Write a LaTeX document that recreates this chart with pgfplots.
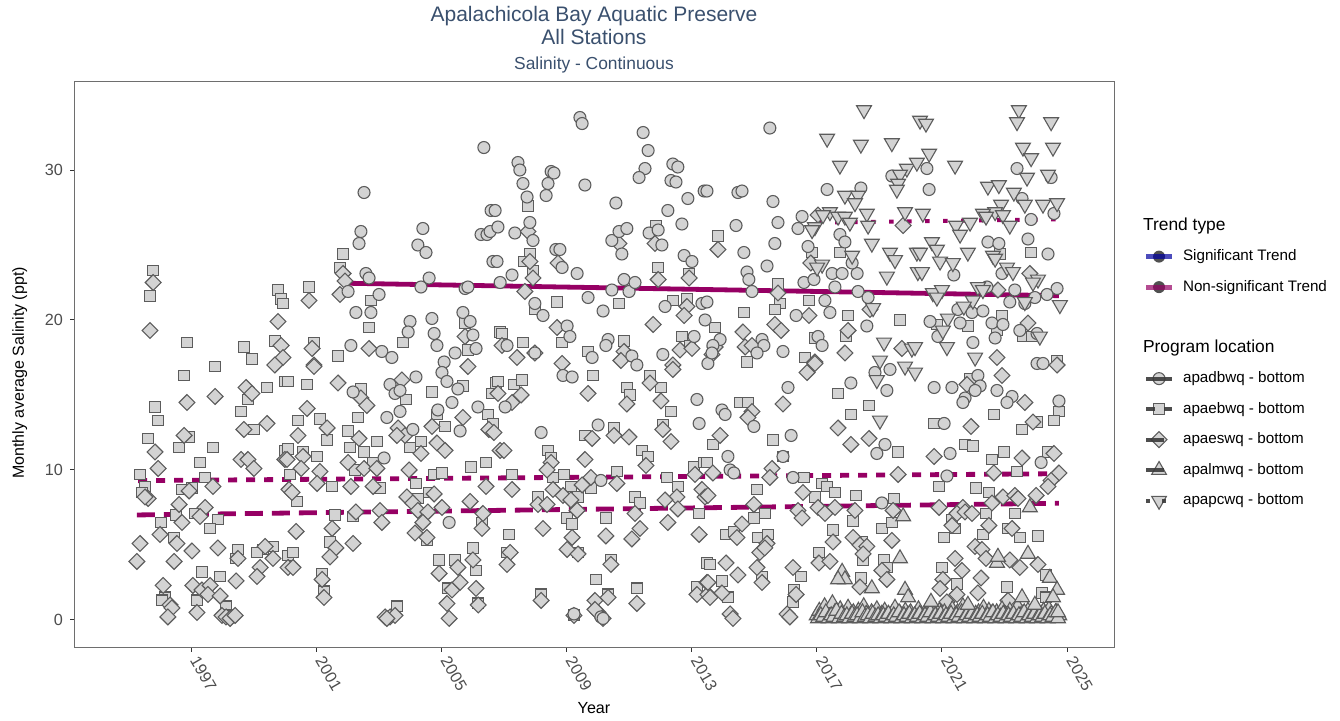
\documentclass[border=0pt]{standalone}
\usepackage{fontspec}
\setmainfont{Liberation Sans}
\usepackage{pgfplots}
\pgfplotsset{compat=1.18}

\definecolor{ptfill}{HTML}{D3D3D3}
\definecolor{ptedge}{HTML}{5C5C5C}
\definecolor{framecol}{HTML}{6E6E6E}
\definecolor{tickcol}{HTML}{333333}
\definecolor{ticklab}{HTML}{4D4D4D}
\definecolor{trendmag}{HTML}{960064}
\definecolor{trendblue}{HTML}{0000A0}
\definecolor{titlecol}{HTML}{3A506E}
\definecolor{keyline}{HTML}{3A3A3A}
\definecolor{keydot}{HTML}{505050}

\tikzset{pt/.style={fill=ptfill, draw=ptedge, line width=0.55pt, solid}}

\pgfplotsset{
  circ/.style={only marks, forget plot, mark=*, mark size=3pt, mark options={pt}},
  sq/.style={only marks, forget plot, mark=square*, mark size=2.7pt, mark options={pt}},
  dia/.style={only marks, forget plot, mark=square*, mark size=2.8pt, mark options={pt, rotate=45}},
  tri/.style={only marks, forget plot, mark=triangle*, mark size=4.3pt, mark options={pt}},
  itri/.style={only marks, forget plot, mark=triangle*, mark size=4.3pt, mark options={pt, rotate=180}},
  trend/.style={no markers, forget plot, line width=2.4pt, line cap=butt},
}

\begin{document}
\begin{tikzpicture}[x=1pt,y=1pt]
\path[use as bounding box] (0,0) rectangle (670,360.5);

% titles
\node[anchor=base, font=\fontsize{10.5}{12}\selectfont, text=titlecol] at (297,349.75) {Apalachicola Bay Aquatic Preserve};
\node[anchor=base, font=\fontsize{10.5}{12}\selectfont, text=titlecol] at (297,338.25) {All Stations};
\node[anchor=base, font=\fontsize{8.7}{10}\selectfont, text=titlecol] at (297,325.9) {Salinity - Continuous};
% axis titles
\node[anchor=base, font=\fontsize{8.05}{9}\selectfont] at (297,3.6) {Year};
\node[anchor=base, rotate=90, font=\fontsize{8}{9}\selectfont] at (11.9,174) {Monthly average Salinity (ppt)};

\begin{axis}[
  at={(37pt,36.5pt)}, anchor=south west,
  width=520pt, height=283pt, scale only axis,
  xmin=1993.26, xmax=2026.5, ymin=-1.87, ymax=35.87,
  axis line style={draw=framecol, line width=0.5pt},
  xtick={1997,2001,2005,2009,2013,2017,2021,2025},
  ytick={0,10,20,30},
  tick align=outside, tick pos=left,
  major tick length=2pt,
  every tick/.style={draw=tickcol, line width=0.5pt},
  tick label style={font=\fontsize{8.1}{9}\selectfont, text=ticklab},
  xticklabel style={rotate=-60, anchor=west},
  /pgf/number format/assume math mode=true,
  /pgf/number format/1000 sep={},
  legend cell align=left,
  legend style={
    at={(axis description cs:1.0308,0.7577)}, anchor=north west,
    draw=none, fill=none, inner sep=0pt, outer sep=0pt,
    row sep=8.25pt, column sep=5.5pt,
    font=\fontsize{7.6}{9}\selectfont,
    nodes={inner sep=0pt, text height=5.5pt, text depth=1.5pt},
  },
]

% ---------------- apaebwq (squares) ----------------
\addplot[sq] coordinates {
(1995.79,23.3) (1995.69,21.6) (1996.87,18.5) (1998.69,18.2) (1998.95,17.4) (1997.77,16.9)
(1999.78,22.0) (1999.88,21.4) (1999.94,21.1) (1999.68,18.6)
(2000.77,22.2) (2000.93,18.5) (2001.70,17.6) (2001.86,24.4) (2001.76,23.5) (2002.75,21.3)
(2002.69,19.5) (2003.78,18.5) (2005.76,19.8) (2005.85,18.0) (2006.88,19.2)
(1996.78,16.3) (1995.85,14.2) (1995.95,13.3) (1998.82,14.7) (1999.43,15.5) (2000.00,15.9)
(1998.60,13.9) (1999.01,12.7) (1996.94,12.2) (1995.63,12.1) (1996.62,11.5) (1997.70,11.5)
(1997.29,10.5) (2000.00,11.3) (1995.37,9.7) (1995.53,8.9) (1997.45,9.5) (1995.43,8.5)
(1996.71,8.7) (1997.03,8.8) (1997.13,7.1) (1996.52,7.0) (1997.86,6.7) (1996.04,6.5)
(1996.46,5.5) (1997.61,6.1) (1998.50,4.7) (1998.44,4.1) (1999.30,4.7) (1999.62,4.9)
(1999.11,4.5) (2000.10,4.3) (1997.35,3.2) (1997.93,2.9) (1996.17,1.5) (1996.07,1.3)
(1997.19,1.3) (1998.12,0.9) (1998.25,0.3)
(2000.10,15.9) (2000.71,15.7) (2002.43,15.4) (2000.42,13.3) (2001.12,13.4) (2001.35,12.0)
(2002.02,12.6) (2002.34,13.5) (2002.94,11.9) (2002.08,11.5) (2002.53,11.2) (2000.10,11.4)
(2000.58,11.2) (2001.03,10.9) (2002.82,10.5) (2002.24,10.0) (2000.16,9.7) (2001.51,8.9)
(2003.04,8.8) (2000.39,7.9) (2001.60,7.0) (2002.18,6.9) (2001.44,5.2) (2000.26,4.5)
(2001.19,3.1) (2001.25,1.9) (2003.58,0.9)
(2003.87,14.7) (2004.35,11.9) (2004.00,11.5) (2004.70,15.2) (2004.86,13.7) (2005.12,12.9)
(2005.69,15.6) (2006.49,13.7) (2006.65,13.1) (2006.75,15.8) (2006.62,15.1) (2005.95,10.2)
(2006.43,10.5) (2004.19,9.1) (2004.77,9.7) (2005.02,9.8) (2004.25,8.1) (2004.61,8.5)
(2006.30,6.5) (2004.54,5.3) (2004.93,4.0) (2005.44,4.0) (2005.21,2.1) (2006.01,4.8)
(2006.11,3.3) (2006.17,1.1)
(2007.77,27.6) (2007.83,24.4) (2007.64,23.9) (2007.93,23.3) (2007.99,20.7) (2008.70,21.2)
(2010.68,21.1) (2011.86,26.3) (2011.93,23.5) (2012.92,23.1) (2012.40,21.3) (2012.85,21.4)
(2006.94,19.1) (2007.61,18.5) (2008.86,18.5) (2009.69,17.9) (2010.84,18.6) (2012.69,18.9)
(2012.95,18.3)
(2009.85,16.3) (2006.81,15.9) (2007.32,15.7) (2007.58,16.0) (2010.93,15.5) (2011.03,15.0)
(2011.67,16.3) (2012.02,15.5) (2012.34,13.9) (2012.08,13.0) (2009.59,12.3) (2010.52,12.8)
(2008.41,11.3) (2008.51,10.8) (2011.41,11.3) (2011.61,10.9) (2007.26,9.7) (2008.92,9.7)
(2008.57,9.5) (2009.14,8.9) (2009.78,8.8) (2010.61,9.9) (2009.37,8.2) (2008.09,8.2)
(2011.19,8.2) (2011.35,7.8) (2009.02,6.8) (2009.18,6.4) (2010.26,6.8) (2012.21,9.5)
(2012.56,8.9) (2013.08,10.2) (2013.40,10.5) (2013.24,7.1) (2007.16,5.7) (2007.10,4.5)
(2009.37,4.5) (2010.42,4.0) (2009.94,2.7) (2011.25,2.1) (2008.19,1.7) (2010.33,1.7)
(2009.24,0.3) (2013.49,3.8) (2013.17,2.2)
(2013.84,25.6) (2016.85,24.5) (2017.74,24.5) (2015.76,22.4) (2015.82,21.1) (2016.75,21.3)
(2015.66,20.7) (2014.67,20.5) (2013.75,19.5) (2018.00,20.3) (2019.66,20.0) (2016.94,18.8)
(2017.94,18.9) (2014.77,17.2) (2016.62,17.5)
(2014.55,14.5) (2014.80,14.5) (2017.68,15.1) (2018.67,14.3) (2018.09,13.7) (2013.68,11.7)
(2015.60,12.0) (2019.60,11.2) (2015.92,10.9) (2013.49,10.5) (2016.59,9.5) (2015.09,8.7)
(2017.17,9.1) (2017.33,8.9) (2017.58,8.5) (2018.25,8.3) (2019.47,8.1) (2016.94,8.2)
(2015.34,7.1) (2014.99,6.8) (2018.16,6.6) (2014.10,5.7) (2014.35,5.9) (2015.12,5.5)
(2015.44,5.7) (2017.52,6.0) (2019.08,6.1) (2019.40,6.5) (2018.44,5.2) (2018.48,4.0)
(2017.07,4.5) (2019.15,4.0) (2019.24,3.5) (2013.59,3.7) (2015.25,2.9) (2016.50,2.9)
(2013.97,2.6) (2014.16,1.5) (2016.27,2.0) (2016.24,1.2) (2018.41,2.8)
(2022.86,24.4) (2023.85,24.5) (2022.92,20.3) (2020.84,19.7) (2021.83,19.6) (2022.76,19.3)
(2023.59,18.9) (2023.88,18.9) (2024.68,17.3)
(2021.90,16.1) (2022.66,13.7) (2024.74,13.9) (2020.75,13.1) (2024.04,13.2) (2023.56,12.7)
(2024.58,13.3) (2021.74,11.7) (2021.99,11.6) (2022.98,11.2) (2022.60,10.7) (2024.39,11.2)
(2023.40,9.9) (2020.91,8.9) (2022.09,8.8) (2022.50,8.5) (2023.33,7.1) (2022.41,7.1)
(2021.32,6.7) (2021.42,6.1) (2022.31,5.7) (2021.07,5.5) (2023.11,6.1) (2023.49,5.5)
(2024.07,5.6) (2021.00,3.5) (2024.33,3.0) (2021.48,2.4) (2023.08,2.2) (2024.20,1.8)
(2024.33,1.5)
};

% ---------------- apaeswq (diamonds) ----------------
\addplot[dia] coordinates {
(1995.79,22.5) (1995.69,19.3) (1999.78,19.9) (1999.88,18.3) (1999.94,17.5) (1999.68,17.0)
(2000.77,21.3) (2000.87,18.1) (2000.93,17.0) (2001.86,23.1) (2001.92,22.6) (2001.76,21.7)
(2002.69,18.1) (2005.76,18.9)
(1996.87,14.5) (1997.77,14.9) (1998.76,15.5) (1998.95,15.1) (1999.43,13.1) (1998.69,12.7)
(1996.78,12.3) (1995.85,11.2) (1995.95,10.1) (1998.60,10.7) (1998.82,10.7) (1999.01,10.1)
(2000.00,10.7) (1995.63,8.1) (1995.53,8.2) (1996.94,8.6) (1997.70,8.9) (1996.62,7.7)
(1997.45,7.5) (1996.71,6.5) (1997.29,6.9) (1996.01,5.7) (1996.55,5.1) (1995.37,5.1)
(1997.03,4.6) (1997.86,4.8) (1995.27,3.9) (1996.46,3.9) (1998.50,4.1) (1999.37,4.9)
(1999.62,4.1) (1999.21,3.5) (1999.11,2.9) (2000.10,3.5) (1998.44,2.6) (1996.11,2.3)
(1996.33,1.0) (1996.39,0.8) (1996.26,0.2) (1997.06,2.3) (1997.35,2.0) (1997.61,2.3)
(1997.54,1.7) (1997.19,0.5) (1997.93,1.6) (1997.99,0.3) (1998.12,0.2) (1998.25,0.1)
(1998.41,0.3)
(2000.93,16.9) (2001.70,15.8) (2002.43,14.8) (2002.62,14.3) (2000.71,14.1) (2001.35,12.8)
(2000.42,12.3) (2002.37,12.1) (2000.58,10.9) (2000.07,10.7) (2000.52,10.1) (2002.02,10.5)
(2002.53,10.1) (2002.94,10.1) (2001.12,9.9) (2001.03,9.1) (2002.11,8.9) (2002.82,8.9)
(2000.13,8.7) (2000.23,8.5) (2002.27,7.2) (2003.04,7.3) (2003.10,6.5) (2000.36,5.9)
(2001.51,6.1) (2001.63,4.8) (2001.44,4.2) (2002.18,5.1) (2000.26,3.5) (2001.19,2.7)
(2001.25,1.5) (2003.20,0.2) (2003.36,0.2) (2003.52,0.3) (2003.26,0.1)
(2003.74,16.0) (2003.62,12.8) (2003.84,12.3) (2003.58,12.3) (2004.35,11.1) (2004.70,12.9)
(2004.86,11.8) (2005.12,11.3) (2005.69,13.5) (2005.85,16.9) (2006.52,12.7) (2006.68,12.5)
(2006.88,11.3) (2003.97,10.0) (2006.43,8.9) (2003.90,8.2) (2004.09,7.8) (2004.77,8.4)
(2004.25,7.3) (2004.57,7.2) (2005.02,7.5) (2004.41,6.5) (2004.16,5.8) (2005.92,7.9)
(2006.33,7.1) (2006.30,6.1) (2004.54,5.5) (2004.93,3.1) (2005.53,3.5) (2005.34,2.0)
(2005.60,2.5) (2005.18,1.1) (2005.25,0.1) (2006.01,4.0) (2006.11,2.1) (2006.18,1.0)
(2007.77,25.9) (2007.83,23.9) (2007.93,22.8) (2008.73,23.8) (2007.67,21.9) (2010.68,25.1)
(2011.83,25.1) (2011.93,22.7) (2012.92,22.8) (2012.85,20.9) (2012.76,20.3) (2008.70,19.5)
(2011.77,19.7) (2006.94,18.3) (2007.42,17.5) (2007.99,17.8) (2008.86,17.1) (2010.84,17.9)
(2010.74,17.3) (2012.63,18.0) (2013.01,18.1) (2012.40,17.0)
(2012.40,16.7) (2006.81,15.1) (2007.26,14.5) (2007.55,15.0) (2009.69,15.1) (2010.93,14.4)
(2011.67,15.8) (2012.02,14.6) (2012.08,12.7) (2012.34,11.9) (2009.82,12.1) (2010.52,12.3)
(2011.00,12.2) (2007.00,11.3) (2009.59,10.7) (2008.51,10.5) (2008.38,10.0) (2011.54,10.3)
(2007.26,8.7) (2008.57,8.7) (2008.89,8.3) (2009.14,8.0) (2009.50,9.0) (2009.78,9.5)
(2010.61,9.1) (2008.09,7.7) (2008.38,7.7) (2011.19,7.1) (2009.34,7.3) (2012.53,8.2)
(2012.15,8.0) (2012.56,7.4) (2012.24,6.5) (2013.11,9.7) (2013.33,8.7) (2013.43,8.2)
(2013.24,5.7) (2008.25,6.1) (2010.26,5.6) (2011.35,6.1) (2011.09,5.4) (2009.18,5.5)
(2009.02,4.7) (2009.37,4.4) (2007.20,4.5) (2007.10,3.7) (2010.42,3.7) (2008.19,1.3)
(2010.33,1.5) (2009.91,1.3) (2011.25,1.1) (2009.24,0.3) (2010.01,0.5) (2010.17,0.1)
(2009.91,0.7) (2013.17,1.7) (2013.49,2.5) (2013.52,1.7)
(2013.84,24.7) (2016.81,23.8) (2015.76,21.8) (2016.75,20.3) (2014.64,19.2) (2014.71,18.2)
(2014.93,18.3) (2015.66,19.7) (2015.86,19.3) (2018.00,19.3) (2017.90,17.8) (2013.75,18.2)
(2013.65,17.7) (2018.70,20.7) (2019.72,18.1) (2016.94,17.2) (2019.76,26.3) (2017.04,27.0)
(2016.69,16.5) (2016.94,17.1) (2014.93,13.9) (2014.80,13.5) (2015.92,14.4) (2017.68,12.8)
(2013.91,12.3) (2018.09,11.7) (2018.67,12.1) (2015.57,10.1) (2015.50,9.5) (2019.60,9.7)
(2013.68,9.8) (2013.52,8.3) (2016.56,8.5) (2019.44,7.3) (2017.04,7.5) (2017.26,7.1)
(2017.58,7.5) (2018.22,7.3) (2014.99,7.7) (2016.40,7.3) (2016.53,6.8) (2014.61,6.4)
(2014.45,5.5) (2015.41,5.1) (2015.18,4.5) (2015.34,4.8) (2017.52,5.2) (2019.40,5.3)
(2018.16,5.5) (2018.38,5.0) (2018.60,4.9) (2018.48,4.4) (2017.07,3.8) (2017.42,3.9)
(2019.08,3.3) (2019.24,2.7) (2014.10,3.8) (2015.09,3.5) (2015.25,2.5) (2016.24,3.5)
(2014.48,3.0) (2013.52,2.5) (2013.59,1.5) (2013.97,1.8) (2016.34,1.7) (2018.38,2.2)
(2014.23,0.4) (2014.32,0.1) (2016.05,0.4) (2016.14,0.2)
(2023.81,23.1) (2022.79,22.0) (2023.75,19.8) (2022.76,17.5) (2024.68,17.0)
(2021.80,15.7) (2022.92,16.3) (2023.65,14.5) (2021.93,12.9) (2023.91,13.2) (2020.75,10.9)
(2023.56,10.8) (2024.58,11.1) (2022.66,9.8) (2024.74,9.8) (2024.49,9.3) (2024.39,8.9)
(2022.60,7.8) (2022.95,8.2) (2023.33,8.3) (2023.43,8.1) (2024.01,8.3) (2020.91,7.5)
(2021.67,7.5) (2021.48,7.1) (2021.74,7.2) (2021.96,7.1) (2021.32,6.3) (2022.50,6.3)
(2023.24,6.1) (2022.06,4.9) (2022.28,4.7) (2022.41,4.1) (2021.42,4.1) (2021.64,3.3)
(2023.17,4.0) (2023.49,3.5) (2024.07,3.7) (2021.03,2.7) (2020.94,2.1) (2021.48,1.7)
(2021.16,1.2) (2022.15,1.8) (2022.25,2.8) (2023.11,1.3)
};

% ---------------- apadbwq (circles) ----------------
\addplot[circ] coordinates {
(2002.02,21.9) (2002.53,28.5) (2002.43,25.9) (2002.37,25.1) (2002.59,23.1) (2002.69,22.8)
(2003.01,21.7) (2002.27,20.5) (2002.75,20.5) (2002.11,18.3) (2003.10,17.9) (2003.42,17.5)
(2004.41,26.1) (2004.25,25.0) (2004.51,24.5) (2004.61,22.8) (2004.35,22.2) (2004.00,19.9)
(2003.94,19.2) (2004.70,20.1) (2004.77,19.1) (2004.86,18.3) (2005.09,17.2) (2005.44,17.8)
(2006.36,31.5) (2006.59,27.3) (2006.27,25.7) (2006.46,25.7) (2006.56,25.9) (2006.81,26.2)
(2006.65,23.9) (2006.78,23.9) (2005.76,22.1) (2005.85,22.2) (2005.69,20.5) (2005.92,19.9)
(2006.01,19.0) (2006.11,18.1) (2006.88,22.5)
(2002.18,15.2) (2003.36,15.7) (2003.52,15.1) (2003.68,15.3) (2003.68,13.9) (2003.26,13.5)
(2004.09,12.7) (2003.17,10.8) (2004.19,16.2) (2004.89,14.0) (2005.02,16.5) (2005.18,15.9)
(2005.53,15.4) (2005.34,14.5) (2005.60,12.6) (2006.17,14.2) (2005.25,6.5)
(2009.43,33.5) (2009.50,33.1) (2007.45,30.5) (2007.51,30.0) (2007.61,29.1) (2007.74,28.2)
(2008.51,29.9) (2008.60,29.8) (2008.41,29.1) (2008.35,28.3) (2009.59,29.0) (2011.45,32.5)
(2011.61,31.3) (2011.51,30.1) (2011.32,29.5) (2012.40,30.4) (2012.56,30.2) (2012.34,29.3)
(2012.50,29.2) (2013.40,28.6) (2012.88,28.1) (2010.58,27.8) (2012.24,27.3) (2012.69,26.4)
(2006.72,27.3) (2007.35,25.8) (2007.83,26.5) (2007.93,25.3) (2007.26,23.0) (2008.66,24.7)
(2008.79,24.7) (2008.86,23.5) (2009.34,23.1) (2007.99,21.1) (2008.25,20.3) (2009.69,21.5)
(2010.17,20.6) (2010.45,22.0) (2011.00,21.9) (2010.84,22.7) (2011.19,22.5) (2010.45,25.3)
(2010.68,25.9) (2010.93,26.1) (2010.77,24.4) (2011.64,25.8) (2011.93,26.0) (2012.05,25.0)
(2012.76,24.3) (2013.01,23.9) (2012.15,20.9) (2013.33,21.1) (2013.43,20.0) (2007.10,18.3)
(2007.99,17.8) (2009.02,19.6) (2009.11,18.9) (2009.82,17.5) (2010.33,18.7) (2010.26,18.3)
(2011.09,17.6) (2011.25,17.0) (2012.08,17.7) (2013.08,18.9)
(2008.89,16.3) (2009.18,16.2) (2013.52,17.1) (2007.04,14.2) (2013.17,14.7) (2013.24,13.1)
(2008.19,12.5) (2010.01,13.0) (2010.10,9.3) (2009.24,0.4) (2010.10,0.2) (2010.17,0.1)
(2015.50,32.8) (2013.49,28.6) (2014.48,28.5) (2014.61,28.6) (2015.60,27.9) (2017.33,28.7)
(2018.41,28.8) (2014.42,26.3) (2015.76,26.5) (2016.53,26.9) (2016.40,26.1) (2014.67,24.5)
(2015.66,25.1) (2015.41,23.6) (2014.77,23.2) (2014.83,22.7) (2014.93,21.9) (2013.49,21.2)
(2013.91,18.7) (2013.68,18.3) (2013.65,17.8) (2016.72,24.9) (2016.59,22.5) (2016.91,22.7)
(2017.74,25.7) (2017.90,25.2) (2017.49,23.1) (2017.81,23.1) (2018.29,23.1) (2018.13,23.8)
(2017.58,22.2) (2017.26,21.3) (2017.42,20.5) (2018.32,21.9) (2018.64,21.5) (2016.34,20.3)
(2017.04,18.9) (2017.17,18.3) (2015.25,18.7) (2015.31,18.3) (2015.09,17.8) (2015.92,17.9)
(2018.60,19.6) (2019.40,29.6)
(2016.08,15.5) (2013.97,14.0) (2014.07,13.7) (2014.99,12.9) (2018.09,15.8) (2019.24,15.3)
(2018.86,16.5) (2019.34,16.7) (2016.18,12.3) (2019.18,11.7) (2018.92,11.1) (2014.16,10.9)
(2015.92,10.9) (2014.23,10.0) (2014.35,9.8) (2016.24,9.5) (2019.08,7.8)
(2020.52,30.1) (2020.59,28.7) (2023.40,30.1) (2024.49,29.5) (2023.56,28.1) (2023.85,26.7)
(2024.58,27.1) (2023.75,25.4) (2022.47,25.2) (2022.82,25.1) (2024.39,24.4) (2021.38,23.0)
(2022.92,23.1) (2024.68,22.1) (2024.36,21.7) (2022.44,22.2) (2023.33,22.0) (2023.17,21.2)
(2023.65,21.1) (2023.97,21.5) (2021.51,20.7) (2021.96,20.5) (2022.31,20.6) (2020.62,19.9)
(2021.58,19.8) (2020.87,18.9) (2022.60,19.8) (2022.95,19.7) (2022.70,18.8) (2023.49,19.3)
(2024.04,19.1) (2021.99,18.5) (2024.04,17.1) (2024.23,17.1)
(2020.75,15.5) (2021.32,15.5) (2022.15,16.3) (2022.22,15.6) (2022.06,15.3) (2021.74,14.8)
(2021.67,14.5) (2022.76,15.3) (2023.24,14.9) (2023.08,14.5) (2024.74,14.6) (2021.07,13.1)
(2021.26,11.1) (2024.17,10.5) (2021.16,9.6)
};

% ---------------- apalmwq (triangles) ----------------
\addplot[tri] coordinates {
(2017.00,0.3) (2017.08,0.6) (2017.17,0.2) (2017.25,0.9) (2017.33,0.4) (2017.42,0.2)
(2017.50,1.1) (2017.58,0.5) (2017.67,0.3) (2017.75,0.7) (2017.83,0.2) (2017.92,0.4)
(2018.00,0.8) (2018.08,0.3) (2018.17,0.5) (2018.25,0.2) (2018.33,0.6) (2018.42,0.3)
(2018.50,0.9) (2018.58,0.4) (2018.67,0.2) (2018.75,0.5) (2018.83,0.3) (2018.92,0.7)
(2019.00,0.2) (2019.08,0.4) (2019.17,0.6) (2019.25,0.3) (2019.33,0.2) (2019.42,0.5)
(2019.50,0.8) (2019.58,0.3) (2019.67,0.4) (2019.75,0.2) (2019.83,0.6) (2019.92,0.3)
(2020.00,0.5) (2020.08,0.2) (2020.17,0.4) (2020.25,0.7) (2020.33,0.3) (2020.42,0.2)
(2020.50,0.5) (2020.58,0.3) (2020.67,0.8) (2020.75,0.4) (2020.83,0.2) (2020.92,0.6)
(2021.00,0.3) (2021.08,0.5) (2021.17,0.2) (2021.25,0.4) (2021.33,0.7) (2021.42,0.3)
(2021.50,0.5) (2021.58,0.2) (2021.67,0.9) (2021.75,0.4) (2021.83,0.3) (2021.92,0.6)
(2022.00,0.2) (2022.08,0.4) (2022.17,0.5) (2022.25,0.3) (2022.33,0.8) (2022.42,0.2)
(2022.50,0.6) (2022.58,0.4) (2022.67,0.3) (2022.75,0.5) (2022.83,0.2) (2022.92,0.7)
(2023.00,0.4) (2023.08,0.3) (2023.17,0.6) (2023.25,0.2) (2023.33,0.5) (2023.42,0.9)
(2023.50,0.3) (2023.58,0.4) (2023.67,0.2) (2023.75,0.6) (2023.83,0.3) (2023.92,0.5)
(2024.00,0.8) (2024.08,0.2) (2024.17,0.4) (2024.25,0.6) (2024.33,0.3) (2024.42,0.7)
(2024.50,0.4) (2024.58,0.2) (2024.67,0.5) (2024.75,0.3)
(2017.04,0.1) (2017.13,0.3) (2017.21,0.2) (2017.29,0.5) (2017.38,0.1) (2017.46,0.3)
(2017.54,0.2) (2017.63,0.6) (2017.71,0.1) (2017.79,0.4) (2017.88,0.2) (2017.96,0.3)
(2018.04,0.1) (2018.13,0.4) (2018.21,0.2) (2018.29,0.3) (2018.38,0.1) (2018.46,0.5)
(2018.54,0.2) (2018.63,0.3) (2018.71,0.1) (2018.79,0.4) (2018.88,0.2) (2018.96,0.3)
(2019.04,0.1) (2019.13,0.3) (2019.21,0.2) (2019.29,0.4) (2019.38,0.1) (2019.46,0.3)
(2019.54,0.2) (2019.63,0.5) (2019.71,0.1) (2019.79,0.3) (2019.88,0.2) (2019.96,0.4)
(2020.04,0.1) (2020.13,0.3) (2020.21,0.2) (2020.29,0.4) (2020.38,0.1) (2020.46,0.3)
(2020.54,0.2) (2020.63,0.5) (2020.71,0.1) (2020.79,0.3) (2020.88,0.2) (2020.96,0.4)
(2021.04,0.1) (2021.13,0.3) (2021.21,0.2) (2021.29,0.4) (2021.38,0.1) (2021.46,0.3)
(2021.54,0.2) (2021.63,0.5) (2021.71,0.1) (2021.79,0.3) (2021.88,0.2) (2021.96,0.4)
(2022.04,0.1) (2022.13,0.3) (2022.21,0.2) (2022.29,0.4) (2022.38,0.1) (2022.46,0.3)
(2022.54,0.2) (2022.63,0.5) (2022.71,0.1) (2022.79,0.3) (2022.88,0.2) (2022.96,0.4)
(2023.04,0.1) (2023.13,0.3) (2023.21,0.2) (2023.29,0.4) (2023.38,0.1) (2023.46,0.3)
(2023.54,0.2) (2023.63,0.5) (2023.71,0.1) (2023.79,0.3) (2023.88,0.2) (2023.96,0.4)
(2024.04,0.1) (2024.13,0.3) (2024.21,0.2) (2024.29,0.4) (2024.38,0.1) (2024.46,0.3)
(2024.54,0.2) (2024.63,0.5) (2024.71,0.1)
(2019.76,6.9) (2019.66,4.1) (2017.81,3.2) (2017.90,2.7) (2017.68,2.7) (2018.76,2.1)
(2019.82,2.0) (2019.92,1.5) (2023.81,7.5) (2022.76,3.8) (2022.79,4.2) (2023.75,4.4)
(2024.45,2.8) (2024.68,2.0) (2024.55,1.5) (2023.56,1.5) (2020.65,1.2) (2021.83,1.0)
(2023.97,1.0) (2024.71,0.5)
};

% ---------------- apapcwq (inverted triangles) ----------------
\addplot[itri] coordinates {
(2018.51,34.0) (2017.33,32.1) (2018.41,31.7) (2019.40,31.8) (2017.74,30.3) (2019.88,30.1)
(2019.66,29.7) (2019.60,29.1) (2019.56,28.7) (2017.90,28.3) (2018.32,28.3) (2018.22,27.8)
(2018.60,27.1) (2017.42,27.2) (2017.20,27.0) (2017.68,26.9) (2017.90,26.9) (2018.06,26.5)
(2018.64,26.3) (2016.94,26.2) (2016.85,26.0) (2019.82,27.2) (2018.76,25.1) (2018.13,24.3)
(2019.34,24.5) (2019.50,24.0) (2017.17,23.7) (2017.01,23.5) (2019.24,22.9) (2020.20,24.5)
(2020.23,23.2) (2018.80,20.8) (2019.15,18.5) (2019.02,17.3) (2020.04,18.1) (2020.30,33.3)
(2018.92,16.0) (2019.02,13.3) (2019.82,16.9) (2020.14,16.5)
(2020.49,33.1) (2023.46,34.0) (2023.40,33.2) (2024.49,33.2) (2020.59,31.1) (2021.42,30.3)
(2023.59,31.5) (2023.85,30.8) (2024.55,31.5) (2023.72,29.5) (2024.39,29.7) (2022.47,28.9)
(2022.82,29.0) (2023.30,28.5) (2023.65,27.7) (2024.23,27.7) (2024.68,27.8) (2022.89,27.7)
(2022.70,27.2) (2022.31,27.1) (2022.95,27.0) (2022.41,26.9) (2021.90,26.5) (2023.17,26.3)
(2020.39,27.1) (2020.20,30.5) (2021.45,26.3) (2021.58,25.7) (2020.68,25.2) (2020.84,24.7)
(2020.30,24.5) (2021.83,24.5) (2022.63,24.3) (2022.70,24.1) (2020.94,23.9) (2021.35,23.8)
(2020.36,23.2) (2023.08,23.5) (2023.27,23.2) (2024.07,22.7) (2023.91,22.5) (2022.15,22.2)
(2022.31,22.0) (2021.99,21.3) (2020.71,21.8) (2021.00,22.0) (2020.84,21.5) (2021.70,20.9)
(2023.65,21.2) (2024.77,21.0) (2021.19,20.1) (2021.03,19.3) (2021.16,18.2) (2022.06,17.5)
(2024.13,18.9) (2020.14,18.2)
};

% ---------------- trend lines ----------------
\addplot[trend, trendmag] coordinates {(2001.98,22.45) (2024.74,21.62)};
\addplot[trend, trendmag, dash pattern=on 4.5pt off 4.5pt] coordinates {(1995.31,9.29) (2024.77,9.75)};
\addplot[trend, trendmag, dash pattern=on 9pt off 4.5pt] coordinates {(1995.27,7.00) (2024.74,7.78)};
\addplot[trend, trendblue, dash pattern=on 9pt off 9pt] coordinates {(2016.94,0.07) (2024.77,0.16)};
\addplot[trend, trendmag, line width=2pt, dash pattern=on 2.25pt off 6.75pt] coordinates {(2017.01,26.49) (2024.77,26.72)};

% ---------------- legend ----------------
\addlegendimage{empty legend}
\addlegendentry{\hspace*{-20pt}\fontsize{8.7}{10}\selectfont Trend type}
\addlegendimage{legend image code/.code={
  \path[draw=none, fill=none] (0pt,-2pt) rectangle (13pt,2pt);
  \fill[overlay, keydot, draw=none] (6.5pt,0pt) circle (3pt);
  \draw[overlay, draw=trendblue, draw opacity=0.7, fill=none, line width=2.4pt] (0pt,0pt) -- (13pt,0pt);
}}
\addlegendentry{Significant Trend}
\addlegendimage{legend image code/.code={
  \path[draw=none, fill=none] (0pt,-2pt) rectangle (13pt,2pt);
  \fill[overlay, keydot, draw=none] (6.5pt,0pt) circle (3pt);
  \draw[overlay, draw=trendmag, draw opacity=0.7, fill=none, line width=2.4pt] (0pt,0pt) -- (13pt,0pt);
}}
\addlegendentry{Non-significant Trend}
\addlegendimage{empty legend}
\addlegendentry{}
\addlegendimage{empty legend}
\addlegendentry{\hspace*{-20pt}\fontsize{8.7}{10}\selectfont Program location}
\addlegendimage{legend image code/.code={
  \path[draw=none, fill=none] (0pt,-2pt) rectangle (13pt,2pt);
  \path[overlay, pt] (6.5pt,0pt) circle (3pt);
  \draw[overlay, draw=keyline, draw opacity=0.9, fill=none, line width=2pt] (0pt,0pt) -- (13pt,0pt);
}}
\addlegendentry{apadbwq - bottom}
\addlegendimage{legend image code/.code={
  \path[draw=none, fill=none] (0pt,-2pt) rectangle (13pt,2pt);
  \path[overlay, pt] (3.8pt,-2.7pt) rectangle (9.2pt,2.7pt);
  \draw[overlay, draw=keyline, draw opacity=0.9, fill=none, line width=2pt, dash pattern=on 4.5pt off 4.5pt] (0pt,0pt) -- (13pt,0pt);
}}
\addlegendentry{apaebwq - bottom}
\addlegendimage{legend image code/.code={
  \path[draw=none, fill=none] (0pt,-2pt) rectangle (13pt,2pt);
  \path[overlay, pt] (6.5pt,-4pt) -- (10.5pt,0pt) -- (6.5pt,4pt) -- (2.5pt,0pt) -- cycle;
  \draw[overlay, draw=keyline, draw opacity=0.9, fill=none, line width=2pt, dash pattern=on 9pt off 4.5pt] (0pt,0pt) -- (13pt,0pt);
}}
\addlegendentry{apaeswq - bottom}
\addlegendimage{legend image code/.code={
  \path[draw=none, fill=none] (0pt,-2pt) rectangle (13pt,2pt);
  \path[overlay, pt] (6.5pt,4.3pt) -- (10.2pt,-2.15pt) -- (2.8pt,-2.15pt) -- cycle;
  \draw[overlay, draw=keyline, draw opacity=0.9, fill=none, line width=2pt, dash pattern=on 9pt off 9pt] (0pt,0pt) -- (13pt,0pt);
}}
\addlegendentry{apalmwq - bottom}
\addlegendimage{legend image code/.code={
  \path[draw=none, fill=none] (0pt,-2pt) rectangle (13pt,2pt);
  \path[overlay, pt] (6.5pt,-4.3pt) -- (10.2pt,2.15pt) -- (2.8pt,2.15pt) -- cycle;
  \draw[overlay, draw=keyline, draw opacity=0.9, fill=none, line width=2pt, dash pattern=on 2pt off 6pt] (0pt,0pt) -- (13pt,0pt);
}}
\addlegendentry{apapcwq - bottom}
\end{axis}
\end{tikzpicture}
\end{document}
